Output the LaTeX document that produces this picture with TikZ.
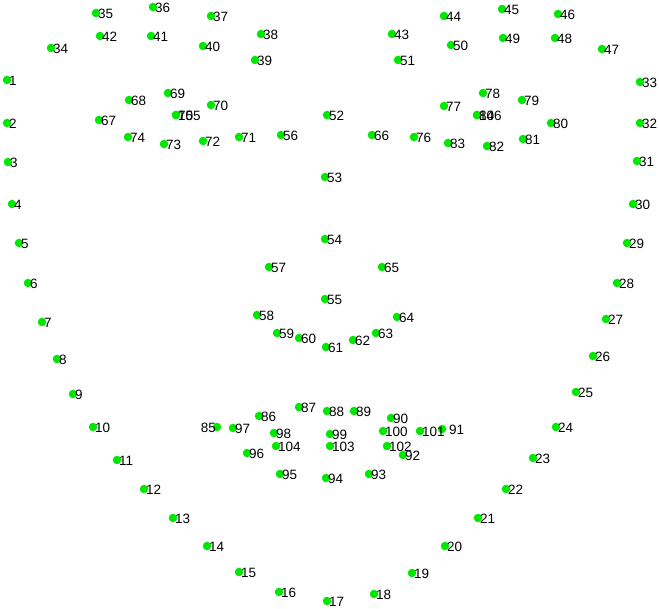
\documentclass[tikz,border=0pt]{standalone}
\usepackage{fontspec}
\setmainfont{Liberation Sans}
\usepackage{tikz}
\definecolor{markgreen}{RGB}{0,232,0}

\begin{document}
\begin{tikzpicture}[x=1pt, y=-1pt,
    dot/.style={circle, fill=markgreen, draw=none, inner sep=0pt, minimum size=8.5pt},
    lbl/.style={anchor=west, inner sep=0pt, xshift=2pt, yshift=-1pt, text=black,
                font=\fontsize{13.5}{14}\selectfont},
    ]
  \useasboundingbox (0,0) rectangle (659,609);

  % landmark points
  \foreach \n/\x/\y in {
      1/7/80, 2/7/123, 3/8/162, 4/12/204, 5/19/243, 6/28/283, 7/42/322, 8/57/359,
      9/73/394, 10/93/427, 11/117/460, 12/144/489, 13/173/518, 14/207/546,
      15/239/572, 16/279/592, 17/327/601, 18/374/594, 19/412/573, 20/445/546,
      21/478/518, 22/506/489, 23/533/458, 24/556/427, 25/576/392, 26/593/356,
      27/606/319, 28/617/283, 29/627/243, 30/633/204, 31/637/161, 32/640/123,
      33/640/82,
      34/51/48, 35/96/13, 36/153/7, 37/211/16, 38/261/34, 39/255/60, 40/203/46,
      41/151/36, 42/100/36,
      43/392/34, 44/444/16, 45/502/9, 46/558/14, 47/602/49, 48/555/38, 49/503/38,
      50/451/45, 51/398/60,
      52/327/115, 53/325/177, 54/325/239, 55/325/299, 56/281/135, 57/269/267,
      58/257/315, 59/277/333, 60/299/338, 61/326/347, 62/353/340, 63/376/333,
      64/397/317, 65/382/267, 66/372/135,
      67/99/120, 68/129/100, 69/168/93, 70/211/105, 71/239/137, 72/203/141,
      73/164/144, 74/128/137, 75/176/115,
      76/414/137, 77/444/106, 78/483/93, 79/522/100, 80/551/123, 81/523/139,
      82/487/146, 83/448/143, 84/477/115,
      85/217/427, 86/259/416, 87/299/407, 88/327/411, 89/354/411, 90/391/418,
      91/442/429, 92/403/455, 93/369/474, 94/326/478, 95/280/474, 96/247/453,
      97/233/428, 98/274/433, 99/330/434, 100/383/431, 101/420/431, 102/387/446,
      103/330/446, 104/276/446,
      105/176/115, 106/477/115}
    \node[dot] (p\n) at (\x,\y) {};

  % numbers
  \foreach \n in {1,...,84}
    \node[lbl] (l\n) at (p\n) {\n};
  \foreach \n in {86,...,90}
    \node[lbl] (l\n) at (p\n) {\n};
  \foreach \n in {92,...,106}
    \node[lbl] (l\n) at (p\n) {\n};
  \node[lbl, anchor=east, xshift=-3pt] (l85) at (p85) {85};
  \node[lbl, xshift=5pt] (l91) at (p91) {91};
\end{tikzpicture}
\end{document}
